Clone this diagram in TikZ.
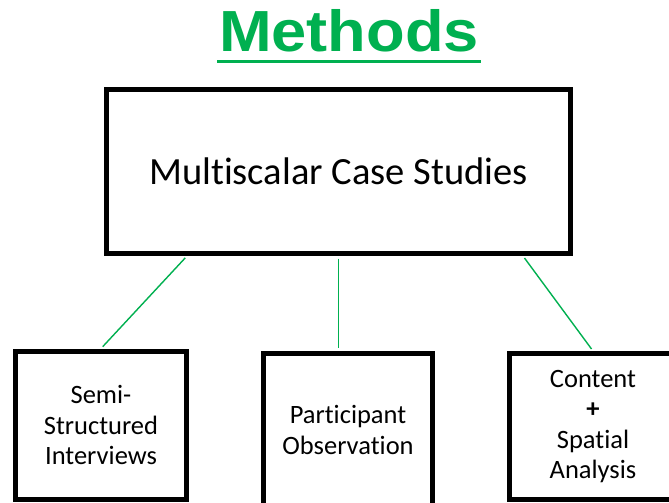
\documentclass[tikz,border=0pt]{standalone}
\usepackage{fontspec}
\setmainfont{Carlito}[Ligatures=NoCommon]
\newfontfamily\titlefont{Liberation Sans}
\definecolor{offgreen}{HTML}{00B050}
\begin{document}
\begin{tikzpicture}[x=1pt,y=-1pt,line join=miter,
	box/.style={draw=black,line width=5pt,inner sep=0pt,align=center,font=\fontsize{26.5}{30.5}\selectfont},
	link/.style={draw=offgreen,line width=1.4pt,shorten <=2.5pt,shorten >=2.5pt}]
		\useasboundingbox[fill=white] (0,0) rectangle (669,503);
		% title
		\node[anchor=base,inner sep=0pt,text=offgreen,font=\titlefont\bfseries\fontsize{58}{60}\selectfont,xscale=1.09,transform shape] (title) at (349,52) {Methods};
		\draw[offgreen,line width=3pt] (217,62)--(481,62);
		% boxes
		\node[box,minimum width=464pt,minimum height=164pt,font=\fontsize{38.5}{42}\selectfont] (main) at (338.5,171.5) {Multiscalar Case Studies};
		\node[box,minimum width=171pt,minimum height=148pt] (semi) at (101,425) {Semi-\\Structured\\Interviews};
		\node[box,minimum width=169pt,minimum height=154pt] (obs) at (348,430) {Participant\\Observation};
		\node[box,minimum width=168pt,minimum height=146pt] (spatial) at (593,426.5) {Content\\\textbf{+}\\Spatial\\Analysis};
		% links
		\draw[link] ([xshift=83pt]main.south west)--(semi.north);
		\draw[link] (main.south)--(main.south |- obs.north);
		\draw[link] ([xshift=-50pt]main.south east)--(spatial.north);
\end{tikzpicture}
\end{document}
